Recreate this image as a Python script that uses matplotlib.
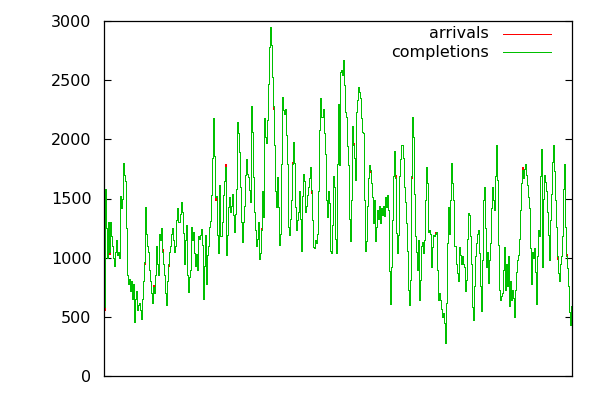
import matplotlib
matplotlib.use("Agg")
import matplotlib.pyplot as plt
from matplotlib.lines import Line2D

completions = [
    # segment 1
    580, 1580, 1250, 1000, 1300, 1050, 1300, 1180, 1100, 1000, 930, 1050, 1150, 1020, 1050, 1000,
    1520, 1420, 1500, 1800, 1700, 1650, 1250, 850, 780, 820, 720, 800, 650, 780, 460, 650, 720,
    560, 600, 620, 560, 480, 650, 800, 960, 1430, 1200, 1100, 1050, 900, 800, 700, 620, 750, 700,
    850, 1100, 950, 850, 1200, 1150, 1250, 1050, 950, 850, 700, 600, 800, 950, 1050, 1100, 1200,
    1250, 1150, 1050, 1100, 1320, 1420, 1300, 1300, 1370,
    # segment 2
    1470, 1390, 1205, 950, 1150, 1275, 850, 710, 840, 900, 1260, 1150, 1220, 1040, 930, 1030,
    900, 1180, 1160, 1190, 1240, 1110, 650, 930, 1190, 780, 1020, 1100, 1260, 1310, 1530, 1840,
    2180, 1860, 1510, 1520, 1190, 1040, 1610, 1180, 1300, 1530, 1650, 1770, 1020, 1190, 1430,
    1510, 1390, 1440, 1540, 1360, 1220, 1370, 1580, 2150, 2050, 1890, 1600, 1300, 1130, 1300,
    1440, 1700, 1830, 1710, 1680, 1570, 1470, 2280, 2060, 1680, 1390, 1230, 1100, 1160, 1300, 990,
    # segment 3
    1040, 1230, 1560, 1340, 2180, 2020, 1970, 2160, 2470, 2780, 2950, 2800, 2530, 2280, 1950,
    1560, 1430, 1680, 1430, 1110, 1200, 1790, 2360, 2250, 2210, 2260, 2040, 1790, 1260, 1190,
    1330, 1490, 1790, 1980, 1800, 1430, 1230, 1320, 1390, 1560, 1330, 1060, 1520, 1710, 1650,
    1390, 1440, 1530, 1600, 1670, 1770, 1570, 1320, 1090, 1080, 1150, 1120, 1200, 1560, 2080,
    2350, 2190, 2190, 2260, 2050, 1880, 1490, 1340, 1560, 1460, 1060, 1040, 1280, 1690, 1600,
    1160, 1040, 1790,
    # segment 4
    2300, 1780, 2570, 2590, 2540, 2670, 2460, 2230, 2190, 1940, 1780, 1330, 1140, 1490, 2110,
    1950, 1840, 1660, 2230, 2330, 2440, 2400, 2350, 2180, 2060, 2050, 1490, 1060, 1140, 1440,
    1670, 1780, 1740, 1630, 1510, 1290, 1490, 1140, 1260, 1400, 1330, 1440, 1290, 1420, 1360,
    1440, 1350, 1510, 1430, 1530, 1400, 890, 610, 920, 1320, 1690, 1900, 1670, 1210, 1040, 1190,
    1690, 1830, 1950, 1950, 1840, 1600, 1470, 1290, 1060, 730, 600, 810, 1690, 2190, 2020, 1540,
    1180,
    # segment 5
    1050, 900, 1150, 640, 810, 1100, 1130, 1040, 1150, 1490, 1770, 1630, 1220, 1230, 1200, 920,
    1090, 1190, 1180, 1200, 1220, 900, 640, 700, 640, 570, 500, 530, 450, 280, 620, 1120, 1430,
    1200, 1490, 1800, 1630, 1490, 1100, 950, 870, 800, 1090, 1020, 950, 1010, 950, 920, 720, 810,
    1160, 1380, 1360, 1180, 950, 580, 470, 760, 1010, 1120, 1200, 1230, 1040, 760, 550, 980, 1490,
    1600, 1250, 920, 1050, 790, 980, 1120, 1420, 1600, 1490, 1400,
    # segment 6
    1690, 1950, 1660, 1110, 730, 640, 680, 700, 900, 1090, 730, 950, 760, 1010, 590, 800, 640,
    730, 660, 500, 730, 880, 980, 1020, 1160, 1400, 1630, 1740, 1670, 1750, 1790, 1700, 1610,
    1510, 1420, 1080, 780, 1050, 1000, 1080, 880, 610, 1010, 1230, 1180, 1690, 1920, 920, 1500,
    1700, 1640, 1560, 1390, 1190, 980, 1320, 1540, 1810, 1950, 1730, 1490, 1260, 1010, 870, 800,
    950, 1010, 1180, 1580, 1790, 1260, 1010, 910, 760, 540, 430, 590, 880,
]

# small differences of arrivals from completions (index: offset)
arrivals_offset = {
    0: -20, 5: -20, 17: 25, 24: 20, 40: -15, 49: 20, 58: 20, 64: -20,
    95: 20, 111: -20, 120: 25, 132: -20, 156: 20, 168: -25, 187: 20,
    206: -20, 248: 20, 265: -20, 290: 25, 306: -20, 330: 20, 346: -20,
    380: 20, 398: -20, 416: 25, 436: 20, 451: -20, 460: 20,
}

yticks = [0, 500, 1000, 1500, 2000, 2500, 3000]

arrivals = [v + arrivals_offset.get(i, 0) for i, v in enumerate(completions)]
x = list(range(len(completions)))

fig = plt.figure(figsize=(6, 4), dpi=100)
ax = fig.add_axes([104 / 600, 24 / 400, 468 / 600, 355 / 400])
ax.plot(x, arrivals, color='#ff0000', lw=0.72, drawstyle='steps-post', antialiased=False)
ax.plot(x, completions, color='#00c000', lw=0.72, drawstyle='steps-post', antialiased=False)
ax.set_xlim(0, len(completions) - 1)
ax.set_ylim(0, 3000)
ax.set_yticks(yticks)
ax.set_yticklabels([str(t) for t in yticks], fontsize=11.5)
ax.set_xticks([])
ax.tick_params(axis='y', direction='in', length=5, width=0.8, right=True, pad=9)
for s in ax.spines.values():
    s.set_linewidth(0.9)

legend_labels = ['arrivals', 'completions']
legend_colors = ['#ff0000', '#00c000']
for i, (lab, col) in enumerate(zip(legend_labels, legend_colors)):
    yy = 1 - (34 + 18 * i) / 400
    fig.text(489 / 600, yy, lab, ha='right', va='center', fontsize=11.5)
    fig.add_artist(Line2D([503 / 600, 551 / 600], [yy, yy], color=col, lw=0.72,
                          antialiased=False, transform=fig.transFigure))

fig.savefig('out.png', dpi=100)
